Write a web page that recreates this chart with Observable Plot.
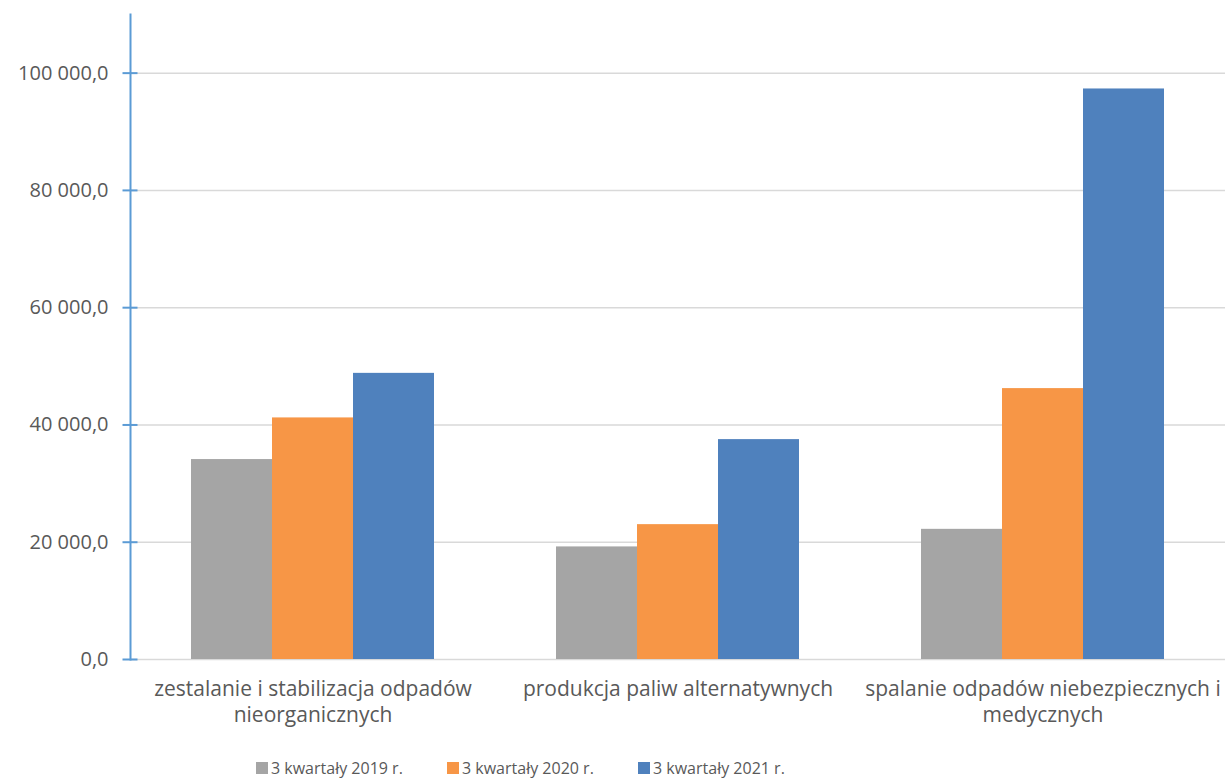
<!DOCTYPE html>
<html>
<head>
<meta charset="utf-8">
<script src="https://cdn.jsdelivr.net/npm/d3@7"></script>
<script src="https://cdn.jsdelivr.net/npm/@observablehq/plot@0.6"></script>
<style>
  html, body { margin: 0; padding: 0; background: #fff; overflow: hidden; }
  #legend { display: flex; align-items: center; margin-left: 256px; margin-top: 12px; font-family: "Open Sans", sans-serif; font-size: 16px; color: #595959; }
  #legend .item { display: flex; align-items: center; width: 191px; flex: none; }
  #legend .sw { width: 12px; height: 12px; margin-right: 3px; }
</style>
</head>
<body>
<div id="chart"></div>
<div id="legend"></div>
<script>
const categories = [
  "zestalanie i stabilizacja odpadów nieorganicznych",
  "produkcja paliw alternatywnych",
  "spalanie odpadów niebezpiecznych i medycznych"
];
const categoryLabels = [
  "zestalanie i stabilizacja odpadów\nnieorganicznych",
  "produkcja paliw alternatywnych",
  "spalanie odpadów niebezpiecznych i\nmedycznych"
];
const series = ["3 kwartały 2019 r.", "3 kwartały 2020 r.", "3 kwartały 2021 r."];
const values2019 = [34100, 19200, 22200];
const values2020 = [41200, 23000, 46200];
const values2021 = [48800, 37500, 97300];
const yTicks = [0, 20000, 40000, 60000, 80000, 100000];
const colors = ["#A5A5A5", "#F79646", "#4F81BD"];

const seriesValues = [values2019, values2020, values2021];
const data = [];
categories.forEach((c, i) => {
  series.forEach((s, j) => data.push({category: c, series: s, value: seriesValues[j][i]}));
});
const labelMap = new Map(categories.map((c, i) => [c, categoryLabels[i]]));
const fmt = d3.formatLocale({decimal: ",", thousands: "\u00a0", grouping: [3]}).format(",.1f");
const axisBlue = "#5B9BD5";

const plot = Plot.plot({
  width: 1225,
  height: 745,
  marginLeft: 130,
  marginRight: 0,
  marginTop: 14,
  marginBottom: 86,
  style: {fontFamily: "'Open Sans', sans-serif", color: "#595959", background: "white"},
  fx: {domain: categories, padding: 0, label: null},
  x: {domain: series, paddingInner: 0, paddingOuter: 0.75, axis: null},
  y: {domain: [0, 110000], label: null},
  color: {domain: series, range: colors},
  marks: [
    Plot.gridY(yTicks, {stroke: "#d9d9d9", strokeOpacity: 1, strokeWidth: 1.5}),
    Plot.barY(data, {fx: "category", x: "series", y: "value", fill: "series"}),
    Plot.frame({anchor: "left", facetAnchor: "left", stroke: axisBlue, strokeWidth: 2}),
    Plot.axisY(yTicks, {tickSize: 15, dx: 7.5, tickPadding: 14.5, tickFormat: fmt, stroke: axisBlue, strokeWidth: 2, fill: "#595959", fontSize: 20, label: null}),
    Plot.axisFx({anchor: "bottom", tickSize: 0, tickPadding: 19, fontSize: 21, lineHeight: 1.2, fill: "#595959", tickFormat: d => labelMap.get(d), label: null})
  ]
});
document.getElementById("chart").appendChild(plot);

const legend = document.getElementById("legend");
series.forEach((s, i) => {
  const item = document.createElement("div");
  item.className = "item";
  const sw = document.createElement("span");
  sw.className = "sw";
  sw.style.background = colors[i];
  const t = document.createElement("span");
  t.textContent = s;
  item.appendChild(sw);
  item.appendChild(t);
  legend.appendChild(item);
});
</script>
</body>
</html>
